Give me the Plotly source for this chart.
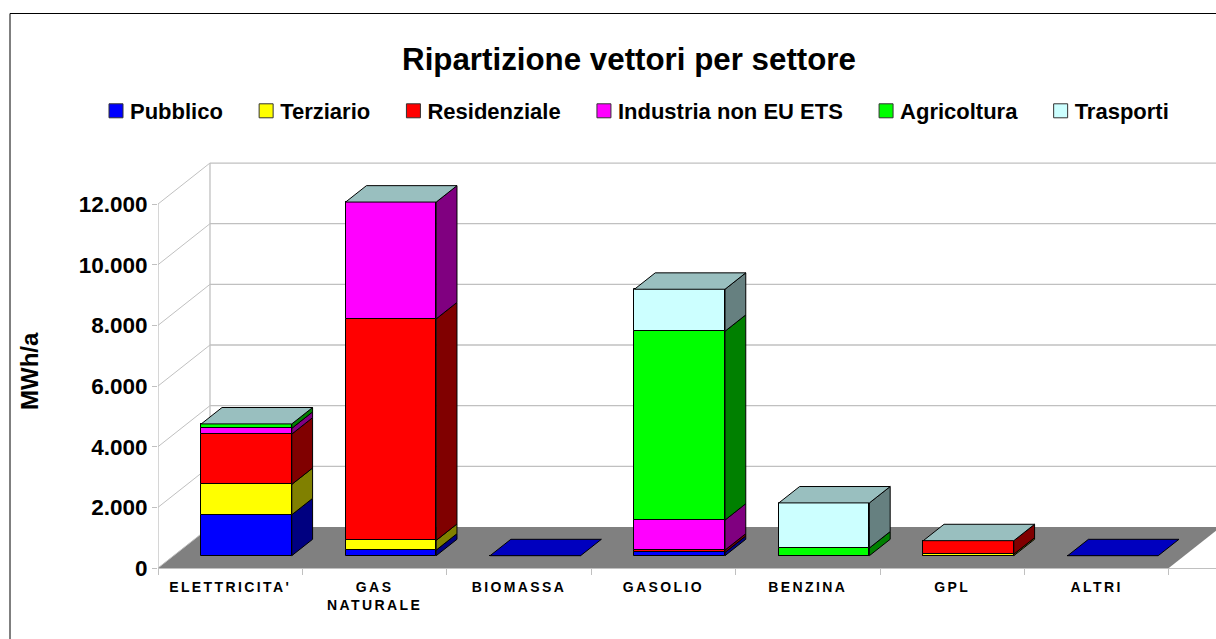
import plotly.graph_objects as go

categories = ["ELETTRICITA'", "GAS<br>NATURALE", "BIOMASSA", "GASOLIO", "BENZINA", "GPL", "ALTRI"]
pubblico = [1350, 185, 0, 110, 0, 0, 0]
terziario = [1000, 320, 0, 0, 0, 50, 0]
residenziale = [1660, 7305, 0, 75, 0, 445, 0]
industria = [190, 3850, 0, 990, 0, 0, 0]
agricoltura = [145, 0, 0, 6225, 255, 0, 0]
trasporti = [0, 0, 0, 1385, 1485, 0, 0]
series_names = ["Pubblico", "Terziario", "Residenziale", "Industria non EU ETS", "Agricoltura", "Trasporti"]
series_values = [pubblico, terziario, residenziale, industria, agricoltura, trasporti]
front_colors = ["#0000FF", "#FFFF00", "#FF0000", "#FF00FF", "#00FF00", "#CCFFFF"]
side_colors = ["#000080", "#808000", "#800000", "#800080", "#008000", "#668080"]
top_color = "#99BFBF"
empty_top_color = "#0000BF"
y_ticks = [0, 2000, 4000, 6000, 8000, 10000, 12000]

# oblique projection of the floor depth onto the two axes
DX, DY = 0.36, 1352
BAR_W, Z0, Z1 = 0.627, 0.30, 0.70
CX = 0.505  # bar centre inside its category
GRID = "#C0C0C0"
W, H = 1216, 639
L, T, B = 158, 160, 71
x_max = (W - L) / 144.4
y_max = (H - B - T) / 0.03033

fig = go.Figure()
n = len(categories)
cum = [0] * n
for name, vals, fc, sc in zip(series_names, series_values, front_colors, side_colors):
    xs = [i + CX + Z0 * DX for i in range(n)]
    fig.add_trace(go.Bar(
        x=xs, y=vals, base=[c + Z0 * DY for c in cum], width=BAR_W, name=name + "\u00a0\u00a0",
        marker=dict(color=fc, line=dict(color="black", width=1)),
        hoverinfo="skip"))
    for i, v in enumerate(vals):
        if v <= 0:
            continue
        xr = i + CX + BAR_W / 2
        px0, px1 = xr + Z0 * DX, xr + Z1 * DX
        y0, y1 = cum[i] + Z0 * DY, cum[i] + Z1 * DY
        fig.add_trace(go.Scatter(
            x=[px0, px1, px1, px0, px0], y=[y0, y1, y1 + v, y0 + v, y0],
            mode="lines", fill="toself", fillcolor=sc,
            line=dict(color="black", width=1), showlegend=False, hoverinfo="skip"))
    cum = [c + v for c, v in zip(cum, vals)]

for i, total in enumerate(cum):
    xl, xr = i + CX - BAR_W / 2, i + CX + BAR_W / 2
    y0, y1 = total + Z0 * DY, total + Z1 * DY
    fig.add_trace(go.Scatter(
        x=[xl + Z0 * DX, xr + Z0 * DX, xr + Z1 * DX, xl + Z1 * DX, xl + Z0 * DX],
        y=[y0, y0, y1, y1, y0], mode="lines", fill="toself",
        fillcolor=top_color if total > 0 else empty_top_color,
        line=dict(color="black", width=1), showlegend=False, hoverinfo="skip"))

shapes = [dict(type="path", layer="below", xref="x", yref="y",
               path=f"M0,0 L{DX},{DY} L{n + DX},{DY} L{n},0 Z",
               fillcolor="#808080", line=dict(width=0))]
for v in y_ticks:
    line = dict(color=GRID, width=1.3)
    shapes.append(dict(type="line", layer="below", xref="x", yref="y", x0=0, y0=v, x1=DX, y1=v + DY, line=dict(color=GRID, width=1)))
    if v > 0:
        shapes.append(dict(type="line", layer="below", xref="x", yref="y", x0=DX, y0=v + DY, x1=n + DX, y1=v + DY, line=line))
shapes += [
    dict(type="line", layer="below", xref="x", yref="y", x0=0, y0=0, x1=0, y1=max(y_ticks), line=dict(color=GRID, width=1.3)),
    dict(type="line", layer="below", xref="x", yref="y", x0=DX, y0=DY, x1=DX, y1=max(y_ticks) + DY, line=dict(color=GRID, width=1.3)),
]
# chart frame: the reference only shows its top and left edges
fx = (10 - L) / (W - L)
fy = (H - B - 13.5) / (H - B - T)
shapes += [
    dict(type="line", xref="paper", yref="paper", x0=fx, x1=1.0, y0=fy, y1=fy, line=dict(color="black", width=1)),
    dict(type="line", xref="paper", yref="paper", x0=fx, x1=fx, y0=fy, y1=-B / (H - B - T), line=dict(color="black", width=1)),
]

FONT = "Liberation Sans"
fig.update_layout(
    width=W, height=H, autosize=False, barmode="overlay", bargap=0,
    separators=",.", paper_bgcolor="white", plot_bgcolor="white",
    margin=dict(l=L, r=0, t=T, b=B, autoexpand=False),
    font=dict(family=FONT, color="black"),
    title=dict(text="Ripartizione vettori per settore", xref="container", yref="container",
               x=629 / W, y=1 - 59 / H, xanchor="center", yanchor="middle",
               font=dict(family=FONT, size=31.3, weight=700, color="black")),
    legend=dict(orientation="h", x=(90 - L) / (W - L), y=(H - B - 111) / (H - B - T),
                xanchor="left", yanchor="middle", traceorder="normal", bgcolor="rgba(0,0,0,0)",
                font=dict(family=FONT, size=22, weight=700, color="black")),
    shapes=shapes,
    annotations=[dict(text="MWh/a", xref="paper", yref="paper", showarrow=False, textangle=-90,
                      x=(29 - L) / (W - L), y=(H - B - 371) / (H - B - T), xanchor="center", yanchor="middle",
                      font=dict(family=FONT, size=24, weight=700, color="black"))],
    xaxis=dict(range=[0, x_max], tickvals=[i + 0.5 for i in range(n)], ticktext=categories,
               ticks="outside", ticklen=6, tickcolor="rgba(0,0,0,0)", showgrid=False, zeroline=False,
               showline=True, linecolor=GRID, linewidth=1,
               tickfont=dict(family=FONT, size=14, weight=700, color="black"), tickangle=0,
               minor=dict(tickvals=list(range(n + 1)), ticks="outside", ticklen=6, tickcolor=GRID, showgrid=False)),
    yaxis=dict(range=[0, y_max], tickvals=y_ticks, tickformat=",d", ticks="outside", ticklen=5,
               tickcolor=GRID, showgrid=False, zeroline=False, showline=False,
               tickfont=dict(family=FONT, size=22.5, weight=700, color="black")),
)

post = """
document.body.style.margin='0';
function tidy(){
  document.querySelectorAll('.xtick text').forEach(function(t){t.style.letterSpacing='2.4px';});
  document.querySelectorAll('.legend .legendpoints path').forEach(function(p){
    p.setAttribute('d','M13,7H-1V-7H13Z');
    p.style.stroke='#333';
  });
}
tidy();
setTimeout(tidy,100);
setTimeout(tidy,400);
"""
fig.write_html("out.html", post_script=post, config={"displayModeBar": False})
